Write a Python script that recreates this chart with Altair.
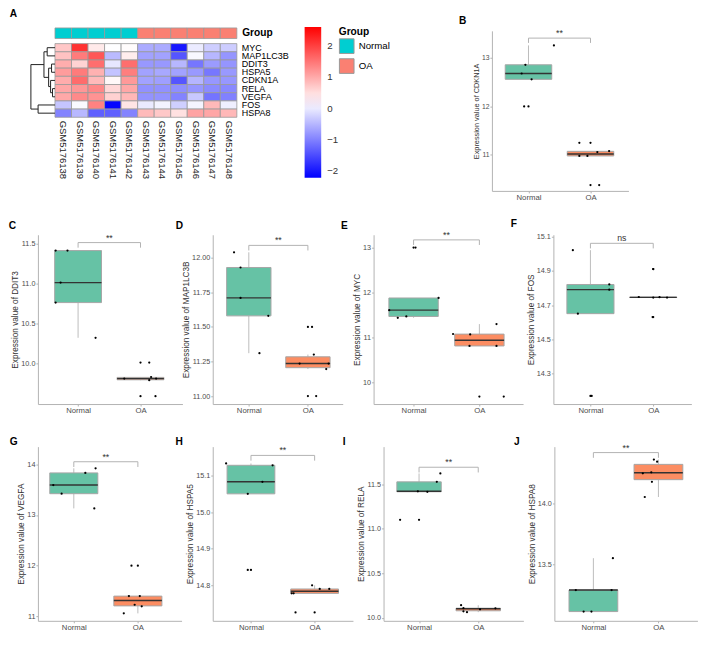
import altair as alt
import numpy as np
import pandas as pd

SCX = 0.978
SCY = 0.963
SCF = 0.97
FONT = "Liberation Sans"


def PX(v):
    return round(float(v) * SCX, 2)


def PY(v):
    return round(float(v) * SCY, 2)


def PF(v):
    return round(float(v) * SCF, 2)


# ------------------------------------------------------------------ heatmap data
samples = ["GSM5176138", "GSM5176139", "GSM5176140", "GSM5176141", "GSM5176142",
           "GSM5176143", "GSM5176144", "GSM5176145", "GSM5176146", "GSM5176147", "GSM5176148"]
sample_groups = ["Normal"] * 5 + ["OA"] * 6
genes = ["MYC", "MAP1LC3B", "DDIT3", "HSPA5", "CDKN1A", "RELA", "VEGFA", "FOS", "HSPA8"]
z_MYC = [0.73, 2.12, 0.40, 0.19, 0.23, -0.59, -0.59, -1.98, 0.01, -0.26, -0.27]
z_MAP1LC3B = [0.77, 1.44, 1.78, -0.45, 0.37, -0.68, -0.68, -1.40, 0.13, -0.48, -0.80]
z_DDIT3 = [0.97, 0.61, 1.56, -0.03, 1.56, -0.77, -0.77, -0.48, -1.09, -0.74, -0.80]
z_HSPA5 = [1.13, 1.44, 0.93, -0.36, 1.41, -0.68, -0.62, -0.68, -0.76, -1.08, -0.76]
z_CDKN1A = [0.98, 1.58, 0.85, 0.27, 1.16, -0.68, -0.70, -1.40, -0.50, -0.78, -0.78]
z_RELA = [1.03, 1.18, 1.32, 0.58, 1.03, -0.84, -0.84, -0.86, -0.79, -0.89, -0.91]
z_VEGFA = [1.02, 1.30, 1.22, 0.63, 0.88, -0.82, -0.82, -0.97, -0.32, -1.11, -0.99]
z_FOS = [-0.35, 0.15, 1.38, -2.15, 0.44, 0.00, 0.09, -0.25, 0.10, 0.86, 0.05]
z_HSPA8 = [-0.97, -0.47, -1.31, -1.31, -0.97, 0.85, 0.72, 0.48, 1.07, 1.04, 0.87]
z_rows = [z_MYC, z_MAP1LC3B, z_DDIT3, z_HSPA5, z_CDKN1A, z_RELA, z_VEGFA, z_FOS, z_HSPA8]
color_domain = [-2.2, 2.6]
color_mid = 0.2
colorbar_ticks = [-2, -1, 0, 1, 2]

# row dendrogram: (child a, child b, merge height); ints refer to earlier merges
dend_merges = [
    ("RELA", "VEGFA", 2.5),
    ("DDIT3", "HSPA5", 3.5),
    ("CDKN1A", 0, 4.5),
    (1, 2, 6.5),
    ("MYC", "MAP1LC3B", 8.0),
    (4, 3, 11.3),
    ("FOS", "HSPA8", 17.3),
    (5, 6, 24.7),
]

# ------------------------------------------------------------------ boxplot data
cdkn1a_normal = [13.26, 12.86, 12.68, 12.56, 12.0]
cdkn1a_oa = [11.25, 10.98, 10.98, 11.06, 11.08, 10.38]
cdkn1a_normal_jit = [0.41, -0.05, -0.11, 0.05, -0.07]
cdkn1a_oa_jit = [-0.18, -0.18, -0.05, 0.11, 0.30, 0.14]

ddit3_normal = [11.41, 11.41, 11.01, 10.76, 10.32]
ddit3_oa = [10.01, 9.81, 9.83, 9.79, 9.81, 9.59]
ddit3_normal_jit = [-0.36, -0.17, -0.28, -0.36, 0.28]
ddit3_oa_jit = [0.14, -0.26, 0.17, 0.14, 0.25, 0.24]

map1lc3b_normal = [12.04, 11.93, 11.71, 11.58, 11.31]
map1lc3b_oa = [11.5, 11.30, 11.235, 11.235, 11.195, 11.0]
map1lc3b_normal_jit = [-0.25, -0.14, -0.14, 0.33, 0.18]
map1lc3b_oa_jit = [0.07, 0.10, -0.14, 0.35, 0.31, 0.14]

myc_normal = [13.0, 11.88, 11.61, 11.47, 11.44]
myc_oa = [11.30, 11.08, 11.07, 10.815, 10.815, 9.69]
myc_normal_jit = [0.03, 0.38, -0.37, -0.11, -0.24]
myc_oa_jit = [0.26, -0.40, -0.14, -0.15, 0.26, 0.37]

fos_normal = [15.02, 14.82, 14.79, 14.65, 14.17]
fos_oa = [14.91, 14.747, 14.744, 14.746, 14.744, 14.63]
fos_normal_jit = [-0.28, 0.30, 0.30, -0.20, 0.02]
fos_oa_jit = [0.0, -0.23, 0.0, 0.10, 0.22, -0.01]

vegfa_normal = [13.92, 13.83, 13.59, 13.42, 13.13]
vegfa_oa = [12.0, 11.4, 11.4, 11.23, 11.2, 11.06]
vegfa_normal_jit = [0.34, 0.18, -0.32, -0.19, 0.32]
vegfa_oa_jit = [-0.10, -0.14, 0.03, -0.05, 0.06, -0.22]

hspa5_normal = [15.133, 15.128, 15.083, 15.05, 14.842]
hspa5_oa = [14.80, 14.79, 14.79, 14.778, 14.778, 14.726]
hspa5_normal_jit = [-0.39, 0.34, 0.18, -0.05, -0.05]
hspa5_oa_jit = [-0.04, 0.08, 0.23, -0.36, -0.33, -0.30]

rela_normal = [11.62, 11.526, 11.42, 11.415, 11.10]
rela_oa = [10.143, 10.11, 10.075, 10.065, 10.097, 10.108]
rela_normal_jit = [0.36, 0.30, -0.02, 0.14, -0.32]
rela_oa_jit = [-0.29, -0.25, -0.25, -0.19, 0.03, 0.29]

hspa8_normal = [13.552, 13.29, 13.29, 13.113, 13.113]
hspa8_oa = [14.363, 14.345, 14.25, 14.258, 14.18, 14.055]
hspa8_normal_jit = [0.30, -0.27, 0.28, -0.15, -0.03]
hspa8_oa_jit = [-0.07, -0.02, -0.24, -0.11, -0.10, -0.21]

group_names = ["Normal", "OA"]
sig_y = {"CDKN1A": 13.41, "DDIT3": 11.51, "MAP1LC3B": 12.09, "MYC": 13.17, "FOS": 15.06,
         "VEGFA": 14.05, "HSPA5": 15.155, "RELA": 11.69, "HSPA8": 14.42}
sig_label = {"CDKN1A": "**", "DDIT3": "**", "MAP1LC3B": "**", "MYC": "**", "FOS": "ns",
             "VEGFA": "**", "HSPA5": "**", "RELA": "**", "HSPA8": "**"}
y_domain = {"CDKN1A": [10.259, 13.56], "DDIT3": [9.492, 11.608], "MAP1LC3B": [10.942, 12.167],
            "MYC": [9.525, 13.284], "FOS": [14.123, 15.110], "VEGFA": [10.913, 14.348],
            "HSPA5": [14.703, 15.179], "RELA": [9.968, 11.921], "HSPA8": [13.037, 14.469]}
y_ticks = {"CDKN1A": [11, 12, 13], "DDIT3": [10.0, 10.5, 11.0, 11.5],
           "MAP1LC3B": [11.0, 11.25, 11.5, 11.75, 12.0], "MYC": [10, 11, 12, 13],
           "FOS": [14.3, 14.5, 14.7, 14.9, 15.1], "VEGFA": [11, 12, 13, 14],
           "HSPA5": [14.8, 14.9, 15.0, 15.1], "RELA": [10.0, 10.5, 11.0, 11.5], "HSPA8": [13.5, 14.0]}
y_format = {"CDKN1A": "d", "DDIT3": ".1f", "MAP1LC3B": ".2f", "MYC": "d", "FOS": ".1f",
            "VEGFA": "d", "HSPA5": ".1f", "RELA": ".1f", "HSPA8": ".1f"}

# ------------------------------------------------------------------ layout (reference px)
COL_GAP = 31.0
ROW_H = [166.7, 176.3, 181.4]
ROW_BASE = [-14.8, -6.8, -2.4]  # nominal letter baseline relative to row top
ROW_DY = [18.0, 10.8, 10.7]     # letter fine shift per row
A_LETTER_DY = 11.0
ROW_SPACING = 16.5
ROW2_EXTRA = 4.7
LETTER_FS = PF(10.5)
XLAB_FS = PF(8)
FILL = ["#66C2A5", "#FC8D62"]
AXC = "#B3B3B3"

# gene, letter, row, plot-left, width, first centre, step, letter dx, title font, label font
panels = [
    ("CDKN1A", "B", 0, 497.0, 140.0, 534.5, 63.6, -33.7, 7.6, 7.0),
    ("DDIT3", "C", 1, 31.5, 148.2, 72.7, 64.0, -29.8, 8.5, 7.5),
    ("MAP1LC3B", "D", 1, 210.7, 133.3, 247.7, 60.6, -38.0, 8.5, 7.5),
    ("MYC", "E", 1, 375.0, 153.3, 416.0, 67.5, -33.3, 8.5, 7.5),
    ("FOS", "F", 1, 559.3, 141.5, 597.3, 64.4, -43.6, 8.5, 7.5),
    ("VEGFA", "G", 2, 31.5, 147.3, 68.3, 65.7, -28.8, 8.5, 7.5),
    ("HSPA5", "H", 2, 209.8, 143.8, 249.0, 65.3, -38.1, 8.5, 7.5),
    ("RELA", "I", 2, 384.6, 143.4, 421.0, 60.7, -41.9, 8.5, 7.5),
    ("HSPA8", "J", 2, 559.0, 146.7, 599.0, 66.7, -41.3, 8.5, 7.5),
]
values_by_gene = {
    "CDKN1A": (cdkn1a_normal, cdkn1a_oa, cdkn1a_normal_jit, cdkn1a_oa_jit),
    "DDIT3": (ddit3_normal, ddit3_oa, ddit3_normal_jit, ddit3_oa_jit),
    "MAP1LC3B": (map1lc3b_normal, map1lc3b_oa, map1lc3b_normal_jit, map1lc3b_oa_jit),
    "MYC": (myc_normal, myc_oa, myc_normal_jit, myc_oa_jit),
    "FOS": (fos_normal, fos_oa, fos_normal_jit, fos_oa_jit),
    "VEGFA": (vegfa_normal, vegfa_oa, vegfa_normal_jit, vegfa_oa_jit),
    "HSPA5": (hspa5_normal, hspa5_oa, hspa5_normal_jit, hspa5_oa_jit),
    "RELA": (rela_normal, rela_oa, rela_normal_jit, rela_oa_jit),
    "HSPA8": (hspa8_normal, hspa8_oa, hspa8_normal_jit, hspa8_oa_jit),
}


def box_panel(gene, letter, row, left, width, x1, step, ldx, tfs, lfs):
    nv, ov, nj, oj = values_by_gene[gene]
    H = PY(ROW_H[row])
    d0 = 1 - (x1 - left) / step
    d1 = d0 + width / step
    lo, hi = y_domain[gene]

    stats, whisk, outl, pts = [], [], [], []
    for i, (g, vals, jit) in enumerate(zip(group_names, [nv, ov], [nj, oj])):
        a = np.array(vals, dtype=float)
        q1, med, q3 = np.percentile(a, [25, 50, 75])
        iqr = q3 - q1
        lf, hf = q1 - 1.5 * iqr, q3 + 1.5 * iqr
        inside = a[(a >= lf - 1e-9) & (a <= hf + 1e-9)]
        xc = i + 1
        stats.append(dict(group=g, xl=xc - 0.375, xr=xc + 0.375, q1=q1, med=med, q3=q3))
        whisk.append(dict(xc=xc, y1=q3, y2=float(inside.max())))
        whisk.append(dict(xc=xc, y1=q1, y2=float(inside.min())))
        for v in a:
            if v < lf - 1e-9 or v > hf + 1e-9:
                outl.append(dict(xc=xc, v=float(v)))
        for v, j in zip(vals, jit):
            pts.append(dict(xj=xc + j, v=v))
    tip = 0.03 * (hi - lo)
    yb = sig_y[gene]
    br = pd.DataFrame([dict(a=1, b=2, c=yb, d=yb), dict(a=1, b=1, c=yb, d=yb - tip),
                       dict(a=2, b=2, c=yb, d=yb - tip)])
    tx = pd.DataFrame([dict(xm=1.5, yb=yb, label=sig_label[gene])])

    xscale = alt.Scale(domain=[d0, d1], nice=False, zero=False)
    yscale = alt.Scale(domain=[lo, hi], nice=False, zero=False)
    xkw = dict(values=[1, 2], labelExpr="datum.value == 1 ? 'Normal' : 'OA'",
               grid=False, domainColor=AXC, tickColor=AXC, tickSize=2, labelFontSize=XLAB_FS,
               labelColor="#4D4D4D", labelPadding=0.5, labelFlush=False)
    if row == 1 and ROW2_EXTRA > 0.5:
        xaxis = alt.Axis(title=" ", titleFontSize=ROW2_EXTRA, titlePadding=0, **xkw)
    else:
        xaxis = alt.Axis(title=None, **xkw)
    yaxis = alt.Axis(values=y_ticks[gene], format=y_format[gene], title="Expression value of " + gene,
                     grid=False, domainColor=AXC, tickColor=AXC, tickSize=2, labelFontSize=PF(lfs),
                     labelColor="#4D4D4D", labelPadding=1, titleFontSize=PF(tfs),
                     titleFontWeight="normal", titleColor="#333333", titlePadding=1, labelFlush=False)

    def X(f):
        return alt.X(f"{f}:Q", scale=xscale, axis=xaxis)

    def Y(f):
        return alt.Y(f"{f}:Q", scale=yscale, axis=yaxis)

    l_whisk = alt.Chart(pd.DataFrame(whisk)).mark_rule(color="#BDBDBD", strokeWidth=1).encode(
        x=X("xc"), y=Y("y1"), y2="y2")
    l_box = alt.Chart(pd.DataFrame(stats)).mark_rect(stroke="#A6A6A6", strokeWidth=1).encode(
        x=X("xl"), x2="xr", y=Y("q1"), y2="q3",
        color=alt.Color("group:N", scale=alt.Scale(domain=group_names, range=FILL), legend=None))
    l_med = alt.Chart(pd.DataFrame(stats)).mark_rule(color="#333333", strokeWidth=1.4).encode(
        x=X("xl"), x2="xr", y=Y("med"))
    layers = [l_whisk, l_box, l_med]
    if outl:
        layers.append(alt.Chart(pd.DataFrame(outl)).mark_circle(size=5, color="black", opacity=1).encode(
            x=X("xc"), y=Y("v")))
    layers.append(alt.Chart(pd.DataFrame(pts)).mark_circle(size=5, color="black", opacity=1).encode(
        x=X("xj"), y=Y("v")))
    layers.append(alt.Chart(br).mark_rule(color=AXC, strokeWidth=1).encode(
        x=X("a"), x2="b", y=Y("c"), y2="d"))
    layers.append(alt.Chart(tx).mark_text(baseline="bottom", fontSize=PF(9), color="#333333").encode(
        x=X("xm"), y=Y("yb"), text="label:N"))

    br_px = (hi - yb) / (hi - lo) * H
    y1 = min(0.0, br_px - PF(9))
    offset = round(y1 - PY(ROW_BASE[row]), 2)
    title = alt.TitleParams(text=letter, anchor="start", frame="group", fontSize=LETTER_FS,
                            fontWeight="bold", dx=PX(ldx), dy=ROW_DY[row], offset=offset,
                            baseline="alphabetic", color="black")
    return alt.layer(*layers).properties(width=PX(width), height=H, title=title)


# ------------------------------------------------------------------ heatmap panel A
A_LEFT = 31.5
A_W = 497.0 - COL_GAP - A_LEFT
A_H = ROW_H[0]
cx0, cx1 = 17.5, 204.0     # cell columns inside panel A
cy0, cy1 = 13.3, 90.0      # cell rows
gy0, gy1 = -3.0, 8.0       # annotation bar

cells = pd.DataFrame([dict(sample=s, gene=g, z=z_rows[gi][si])
                      for gi, g in enumerate(genes) for si, s in enumerate(samples)])
gbar = pd.DataFrame(dict(sample=samples, group=sample_groups, gl=["Group"] * len(samples)))
glab = pd.DataFrame(dict(gl=["Group"]))

leaf_pos = {g: i + 0.5 for i, g in enumerate(genes)}
nodes, segs = [], []
for a, b, h in dend_merges:
    ya, ha = (leaf_pos[a], 0.0) if isinstance(a, str) else nodes[a]
    yb_, hb = (leaf_pos[b], 0.0) if isinstance(b, str) else nodes[b]
    segs.append(dict(x=ha, x2=h, y=ya, y2=ya))
    segs.append(dict(x=hb, x2=h, y=yb_, y2=yb_))
    segs.append(dict(x=h, x2=h, y=ya, y2=yb_))
    nodes.append(((ya + yb_) / 2, h))
hmax = max(m[2] for m in dend_merges)
dend = pd.DataFrame(segs)

xs_cells = alt.Scale(domain=samples, range=[PX(cx0), PX(cx1)], paddingInner=0, paddingOuter=0)
l_cells = alt.Chart(cells).mark_rect(stroke="#999999", strokeWidth=0.8).encode(
    x=alt.X("sample:N", sort=samples, scale=xs_cells,
            axis=alt.Axis(orient="bottom", offset=PY(cy1 - A_H), labelAngle=90, domain=False, ticks=False,
                          labelPadding=PY(3), labelFontSize=PF(9.8), labelColor="#222222", title=None)),
    y=alt.Y("gene:N", sort=genes,
            scale=alt.Scale(domain=genes, range=[PY(cy0), PY(cy1)], paddingInner=0, paddingOuter=0),
            axis=alt.Axis(orient="right", offset=PX(cx1 - A_W), domain=False, ticks=False,
                          labelPadding=PX(4.5), labelFontSize=PF(9.3), labelColor="black", title=None)),
    color=alt.Color("z:Q", scale=alt.Scale(domain=color_domain, domainMid=color_mid,
                                           range=["#0000FF", "#FFFFFF", "#FF0000"], interpolate="rgb"),
                    legend=alt.Legend(title=None, orient="none", legendX=PX(273.5), legendY=PY(-4),
                                      direction="vertical", gradientLength=PY(157),
                                      gradientThickness=PX(17), values=colorbar_ticks, format="d",
                                      labelFontSize=PF(10), labelColor="#333333", labelOffset=6,
                                      gradientStrokeWidth=0, labelOverlap=False, padding=0)),
)
gy_scale = alt.Scale(domain=["Group"], range=[PY(gy0), PY(gy1)], paddingInner=0, paddingOuter=0)
l_gbar = alt.Chart(gbar).mark_rect(stroke="#999999", strokeWidth=0.8).encode(
    x=alt.X("sample:N", sort=samples, scale=xs_cells, axis=None),
    y=alt.Y("gl:N", scale=gy_scale, axis=None),
    color=alt.Color("group:N", scale=alt.Scale(domain=group_names, range=["#00CED1", "#FA8072"]),
                    legend=alt.Legend(title="Group", orient="none", legendX=PX(308.5), legendY=PY(-4),
                                      titleFontSize=PF(10.5), titleFontWeight="bold", titleColor="black",
                                      titlePadding=1, labelFontSize=PF(10), labelColor="black",
                                      symbolType="square", symbolSize=round(PX(15) ** 2, 1),
                                      symbolStrokeColor="#999999", symbolStrokeWidth=1,
                                      rowPadding=0, labelOffset=4, padding=0)),
)
l_glab = alt.Chart(glab).mark_text(align="left", baseline="middle", fontSize=PF(10.5),
                                   fontWeight="bold", color="black").encode(
    x=alt.value(PX(209.5)), y=alt.Y("gl:N", scale=gy_scale, axis=None), text="gl:N")
l_dend = alt.Chart(dend).mark_rule(color="#222222", strokeWidth=1).encode(
    x=alt.X("x:Q", scale=alt.Scale(domain=[hmax, 0], range=[PX(-7.2), PX(cx0)], nice=False, zero=False),
            axis=None),
    x2="x2",
    y=alt.Y("y:Q", scale=alt.Scale(domain=[0, len(genes)], range=[PY(cy0), PY(cy1)], nice=False,
                                   zero=False), axis=None),
    y2="y2",
)
A = alt.layer(l_cells, l_gbar, l_glab, l_dend).resolve_scale(
    x="independent", y="independent", color="independent").properties(
    width=PX(A_W), height=PY(A_H),
    title=alt.TitleParams(text="A", anchor="start", frame="group", fontSize=LETTER_FS, fontWeight="bold",
                          dx=PX(-28.8), dy=A_LETTER_DY, offset=round(PY(-4) - PY(ROW_BASE[0]), 2),
                          baseline="alphabetic", color="black"))

bp = [box_panel(*p) for p in panels]

row1 = alt.hconcat(A, bp[0], spacing=PX(COL_GAP), bounds="flush").resolve_scale(color="independent")
row2 = alt.hconcat(*bp[1:5], spacing=PX(COL_GAP), bounds="flush").resolve_scale(color="independent")
row3 = alt.hconcat(*bp[5:9], spacing=PX(COL_GAP), bounds="flush").resolve_scale(color="independent")

chart = alt.vconcat(row1, row2, row3, spacing=ROW_SPACING).resolve_scale(
    color="independent").properties(padding=0).configure(
    font=FONT, background="white").configure_view(stroke=None)

chart.save("out.html", embed_options={"renderer": "svg", "actions": False})
